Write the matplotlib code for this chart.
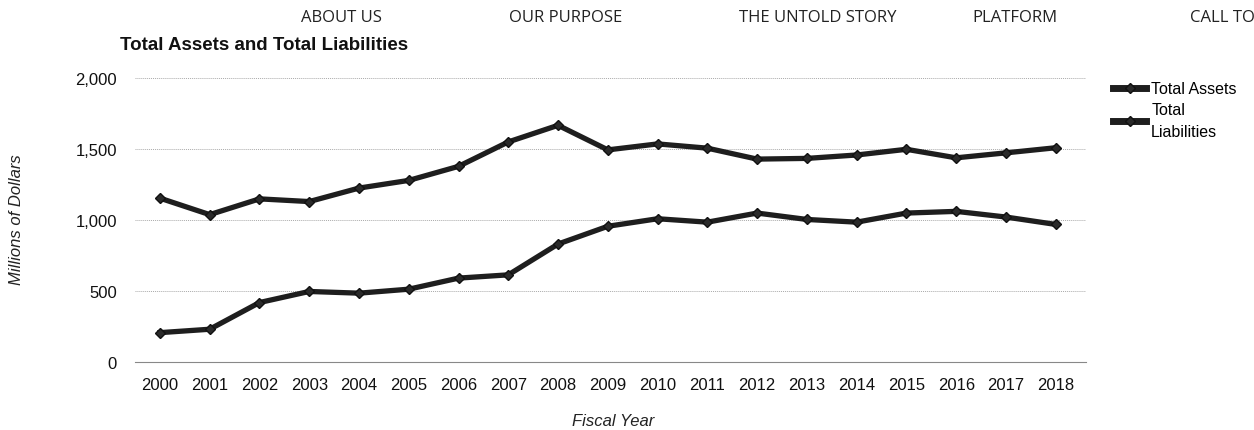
import matplotlib
matplotlib.use("Agg")
import matplotlib.pyplot as plt

plt.rcParams['font.family'] = ['Liberation Sans', 'DejaVu Sans']

# data
years = list(range(2000, 2019))
total_assets = [1153, 1037, 1148, 1129, 1224, 1278, 1377, 1549, 1666, 1493,
                1535, 1505, 1428, 1433, 1457, 1497, 1437, 1472, 1508]
total_liabilities = [206, 230, 418, 496, 484, 512, 590, 613, 830, 955,
                     1008, 984, 1048, 1003, 984, 1048, 1060, 1020, 968]
nav_items = ["ABOUT US", "OUR PURPOSE", "THE UNTOLD STORY", "PLATFORM", "CALL TO"]
nav_x = [341, 566, 818, 1015, 1222]

fig = plt.figure(figsize=(12.54, 4.31), dpi=100)
ax = fig.add_axes([0.1077, 0.158, 0.758, 0.659])

x = list(range(len(years)))
line_kw = dict(color='#1e1e1e', linewidth=3.8, marker='D', markersize=5,
               markerfacecolor='#2a2a2a', markeredgecolor='#111111')
ax.plot(x, total_assets, label='Total Assets', **line_kw)
ax.plot(x, total_liabilities, label='Total\nLiabilities', **line_kw)

ax.set_xlim(-0.5, 18.6)
ax.set_ylim(0, 2000)
ax.set_yticks([0, 500, 1000, 1500, 2000])
ax.set_yticklabels(['0', '500', '1,000', '1,500', '2,000'])
ax.set_xticks(x)
ax.set_xticklabels([str(y) for y in years])
ax.tick_params(axis='both', length=0, labelsize=12, colors='#111111')
ax.tick_params(axis='x', pad=11)
ax.tick_params(axis='y', pad=13)

ax.grid(axis='y', linestyle=(0, (1, 1)), color='#aaaaaa', linewidth=0.7)
ax.set_axisbelow(True)
for s in ['top', 'right', 'left']:
    ax.spines[s].set_visible(False)
ax.spines['bottom'].set_color('#888888')
ax.spines['bottom'].set_linewidth(0.8)

fig.text(17 / 1254, 1 - 220 / 431, 'Millions of Dollars', rotation=90, style='italic',
         fontsize=12, ha='center', va='center', color='#222222')
fig.text(613 / 1254, 1 - 422 / 431, 'Fiscal Year', style='italic',
         fontsize=12, ha='center', va='center', color='#222222')
fig.text(120 / 1254, 1 - 45 / 431, 'Total Assets and Total Liabilities', fontweight='bold',
         fontsize=13.5, ha='left', va='center', color='#111111')

for label, xp in zip(nav_items, nav_x):
    fig.text(xp / 1254, 1 - 18 / 431, label, fontsize=12, ha='center', va='center',
             color='#222222', family=['Open Sans', 'DejaVu Sans'])

leg = ax.legend(loc='upper left', bbox_to_anchor=(1.022, 1.01), frameon=False,
                fontsize=11.5, handlelength=2.1, handletextpad=0.3,
                labelspacing=0.35, borderaxespad=0)
for t in leg.get_texts():
    t.set_linespacing(1.55)
for h in leg.legend_handles:
    h.set_linewidth(5)

fig.savefig('out.png', dpi=100)
